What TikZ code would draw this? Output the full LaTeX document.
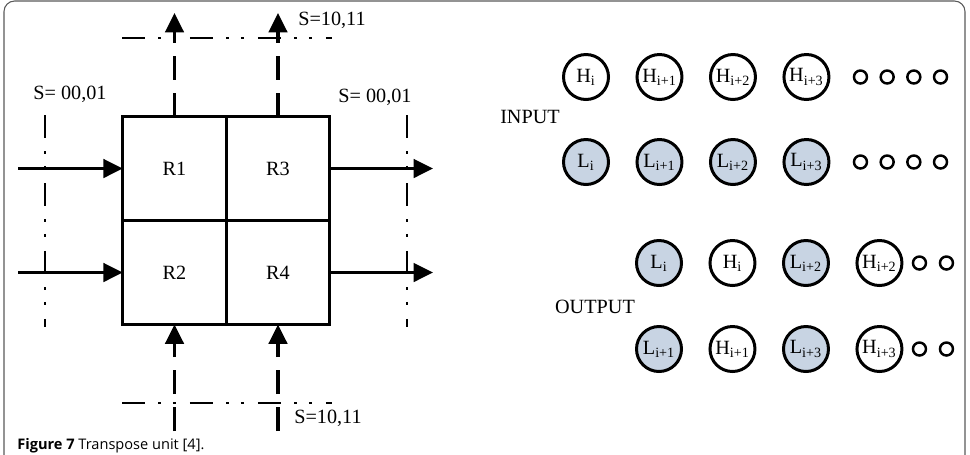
\documentclass[tikz,border=0pt]{standalone}
\usepackage{fontspec}
\setmainfont{Liberation Serif}
\newfontfamily\capfont{Open Sans}
\usetikzlibrary{positioning, arrows.meta}
\definecolor{lowfill}{RGB}{200,212,227}
\tikzset{
  >={Triangle[length=11pt,width=10.5pt]},
  node distance=1.47cm,
  reg/.style={draw, line width=1.8pt, outer sep=0pt, minimum width=2.07cm, minimum height=2.08cm},
  flow/.style={->, line width=1.8pt},
  selarrow/.style={->, line width=1.8pt, dash pattern=on 13.6pt off 7.4pt},
  ctrlline/.style={line width=1.6pt, dash pattern=on 13.1pt off 7.4pt on 1.7pt off 6.8pt on 1.7pt off 8pt},
  hcirc/.style={circle, draw, line width=1.7pt, minimum size=0.9cm, inner sep=0pt},
  lcirc/.style={hcirc, fill=lowfill},
  dotcirc/.style={circle, draw, line width=1.4pt, minimum size=0.26cm, inner sep=0pt},
  frame/.style={draw=black!65, line width=0.6pt, rounded corners=6},
}

\begin{document}
\begin{tikzpicture}[x=0.02cm, y=-0.02cm, font=\fontsize{11.5}{13}\selectfont]
  \useasboundingbox (0,0) rectangle (970,454);
  \clip (0,0) rectangle (970,454);
  \draw[frame] (4,1) rectangle (965,490);

  % transpose registers
  \node[reg] (r1) at (174.5,168.5) {R1};
  \node[reg] (r3) at (278,168.5) {R3};
  \node[reg] (r2) at (174.5,272.5) {R2};
  \node[reg] (r4) at (278,272.5) {R4};

  % ends of the data paths
  \coordinate (in1) at (18,168.5);
  \coordinate (in2) at (18,272.5);
  \coordinate (out1) at (433,168.5);
  \coordinate (out2) at (433,272.5);
  \coordinate (up1) at (174.5,13);
  \coordinate (up3) at (278,13);
  \coordinate (dn2) at (174.5,431);
  \coordinate (dn4) at (278,431);

  % select lines
  \draw[ctrlline] (122,38) -- (332,38);
  \draw[ctrlline] (122,403) -- (332,403);
  \draw[ctrlline] (45,115) -- (45,327);
  \draw[ctrlline] (407,115) -- (407,327);

  % data paths
  \draw[flow] (in1) -- (r1);
  \draw[flow] (in2) -- (r2);
  \draw[flow] (r3) -- (out1);
  \draw[flow] (r4) -- (out2);
  \draw[selarrow] (r1.north) -- (up1);
  \draw[selarrow] (r3.north) -- (up3);
  \draw[selarrow] (dn2) -- (r2.south);
  \draw[selarrow] (dn4) -- (r4.south);

  % select labels
  \node (sl) at (70,94) {S= 00,01};
  \node (sr) at (375,97) {S= 00,01};
  \node (st) at (332,20) {S=10,11};
  \node (sb) at (328,418) {S=10,11};

  % input order
  \node (inlbl) at (530,117) {INPUT};
  \node[hcirc] (hin0) at (586,77) {H\textsubscript{i}};
  \node[hcirc, on grid, right=of hin0] (hin1) {H\textsubscript{i+1}};
  \node[hcirc, on grid, right=of hin1] (hin2) {H\textsubscript{i+2}};
  \node[hcirc, on grid, right=of hin2] (hin3) {H\textsubscript{i+3}};
  \node[dotcirc, on grid, right=1.08cm of hin3] (hdot0) {};
  \node[dotcirc, on grid, right=0.534cm of hdot0] (hdot1) {};
  \node[dotcirc, on grid, right=0.534cm of hdot1] (hdot2) {};
  \node[dotcirc, on grid, right=0.534cm of hdot2] (hdot3) {};

  \node[lcirc] (lin0) at (586,162) {L\textsubscript{i}};
  \node[lcirc, on grid, right=of lin0] (lin1) {L\textsubscript{i+1}};
  \node[lcirc, on grid, right=of lin1] (lin2) {L\textsubscript{i+2}};
  \node[lcirc, on grid, right=of lin2] (lin3) {L\textsubscript{i+3}};
  \node[dotcirc, on grid, right=1.08cm of lin3] (ldot0) {};
  \node[dotcirc, on grid, right=0.534cm of ldot0] (ldot1) {};
  \node[dotcirc, on grid, right=0.534cm of ldot1] (ldot2) {};
  \node[dotcirc, on grid, right=0.534cm of ldot2] (ldot3) {};

  % output order
  \node (outlbl) at (595,307) {OUTPUT};
  \node[lcirc] (oa0) at (659,263) {L\textsubscript{i}};
  \node[hcirc, on grid, right=of oa0] (oa1) {H\textsubscript{i}};
  \node[lcirc, on grid, right=of oa1] (oa2) {L\textsubscript{i+2}};
  \node[hcirc, on grid, right=of oa2] (oa3) {H\textsubscript{i+2}};
  \node[dotcirc, on grid, right=0.8cm of oa3] (oadot0) {};
  \node[dotcirc, on grid, right=0.54cm of oadot0] (oadot1) {};

  \node[lcirc] (ob0) at (659,349) {L\textsubscript{i+1}};
  \node[hcirc, on grid, right=of ob0] (ob1) {H\textsubscript{i+1}};
  \node[lcirc, on grid, right=of ob1] (ob2) {L\textsubscript{i+3}};
  \node[hcirc, on grid, right=of ob2] (ob3) {H\textsubscript{i+3}};
  \node[dotcirc, on grid, right=0.8cm of ob3] (obdot0) {};
  \node[dotcirc, on grid, right=0.54cm of obdot0] (obdot1) {};

  % caption
  \node[anchor=base west, inner sep=0pt, font=\capfont\fontsize{8.3}{9}\selectfont] (cap) at (17,449) {\textbf{Figure 7} Transpose unit [4].};
\end{tikzpicture}
\end{document}
